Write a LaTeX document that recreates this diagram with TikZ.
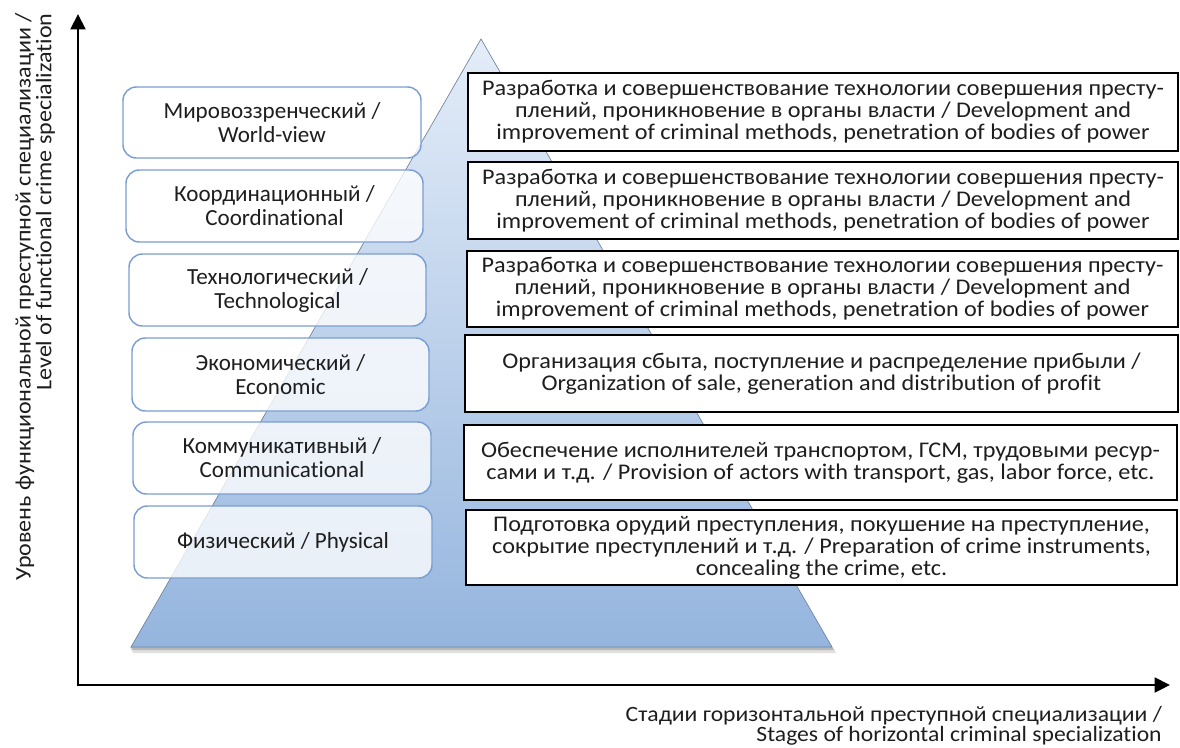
\documentclass[tikz,border=0pt]{standalone}
\usepackage{fontspec}
\setmainfont{Carlito}[Ligatures=CommonOff]
\newfontfamily\rfont{Carlito}[FakeStretch=1.08,Ligatures=CommonOff]
\newfontfamily\lfont{Carlito}[Ligatures=CommonOff]
\usetikzlibrary{arrows.meta,fit,shadows}
\definecolor{pyrtop}{RGB}{228,237,248}
\definecolor{pyrbot}{RGB}{149,181,222}
\definecolor{lbord}{RGB}{122,158,210}
\definecolor{pyredge}{RGB}{110,130,160}
\definecolor{txt}{RGB}{30,30,30}
\tikzset{
  lbox/.style={draw=lbord, line width=1.1pt, rounded corners=10pt, fill=white, fill opacity=0.78, inner sep=0pt},
  ltext/.style={text=txt, font=\lfont\fontsize{17.3}{18}\selectfont, align=center},
  rbox/.style={draw=black, line width=1.2pt, fill=white, inner sep=0pt},
  rtext/.style={text=txt, font=\rfont\fontsize{16.8}{16.5}\selectfont, align=center},
  axis/.style={line width=2.2pt, -{Triangle[length=11.5pt,width=11pt]}},
  axlabel/.style={text=txt, font=\rfont\fontsize{16.4}{15}\selectfont, inner sep=0pt}
}
\begin{document}
\begin{tikzpicture}[x=0.75pt,y=-0.75pt]
\useasboundingbox (0,0) rectangle (1180,747);
% pyramid
\coordinate (apex) at (481,39);
\coordinate (bl) at (131,647);
\coordinate (br) at (832,647);
\fill[black, opacity=0.12] (130,647) -- (833,647) -- (836,653) -- (133,653) -- cycle;
\fill[black, opacity=0.18] (131,647) -- (832,647) -- (834,650) -- (133,650) -- cycle;
\shade[top color=pyrtop, bottom color=pyrbot, draw=pyredge, line width=0.5pt] (apex) -- (br) -- (bl) -- cycle;
% axes
\coordinate (o) at (78,685);
\coordinate (ytop) at (78,14);
\coordinate (xend) at (1170,685);
\draw[axis] ([yshift=-1.1pt]o) -- (ytop);
\draw[axis] ([xshift=-1.1pt]o) -- (xend);
% left boxes
\node[lbox, fit={(123,87)(421,158)}] (l1) {};
\node[ltext] at (l1.center) {Мировоззренческий /\\World-view};
\node[lbox, fit={(126,170)(423,242)}] (l2) {};
\node[ltext] at (l2.center) {Координационный /\\Coordinational};
\node[lbox, fit={(129,254)(426,326)}] (l3) {};
\node[ltext] at (l3.center) {Технологический /\\Technological};
\node[lbox, fit={(132,338)(429,411)}] (l4) {};
\node[ltext] at (l4.center) {Экономический /\\Economic};
\node[lbox, fit={(133,422)(431,494)}] (l5) {};
\node[ltext] at (l5.center) {Коммуникативный /\\Communicational};
\node[lbox, fit={(134,506)(432,578)}] (l6) {};
\node[ltext] at (l6.center) {Физический / Physical};
% right boxes
\node[rbox, fit={(468,73)(1178,151)}] (r1) {};
\node[rtext] at (r1.center) {Разработка и совершенствование технологии совершения престу-\\плений, проникновение в органы власти / Development and\\improvement of criminal methods, penetration of bodies of power};
\node[rbox, fit={(468,162)(1178,239)}] (r2) {};
\node[rtext] at (r2.center) {Разработка и совершенствование технологии совершения престу-\\плений, проникновение в органы власти / Development and\\improvement of criminal methods, penetration of bodies of power};
\node[rbox, fit={(467,251)(1178,327)}] (r3) {};
\node[rtext] at (r3.center) {Разработка и совершенствование технологии совершения престу-\\плений, проникновение в органы власти / Development and\\improvement of criminal methods, penetration of bodies of power};
\node[rbox, fit={(465,335)(1178,412)}] (r4) {};
\node[rtext] at (r4.center) {Организация сбыта, поступление и распределение прибыли /\\Organization of sale, generation and distribution of profit};
\node[rbox, fit={(464,425)(1177,500)}] (r5) {};
\node[rtext] at (r5.center) {Обеспечение исполнителей транспортом, ГСМ, трудовыми ресур-\\сами и т.д. / Provision of actors with transport, gas, labor force, etc.};
\node[rbox, fit={(466,510)(1177,585)}] (r6) {};
\node[rtext] at (r6.center) {Подготовка орудий преступления, покушение на преступление,\\сокрытие преступлений и т.д. / Preparation of crime instruments,\\concealing the crime, etc.};
% axis labels
\node[axlabel, font=\rfont\fontsize{16.7}{15.5}\selectfont, rotate=90, anchor=east, align=right] (ylab) at (35,13) {Уровень функциональной преступной специализации /\\Level of functional crime specialization};
\node[axlabel, anchor=north east, align=right] (xlab) at (1162,706) {Стадии горизонтальной преступной специализации /\\Stages of horizontal criminal specialization};
\end{tikzpicture}
\end{document}
